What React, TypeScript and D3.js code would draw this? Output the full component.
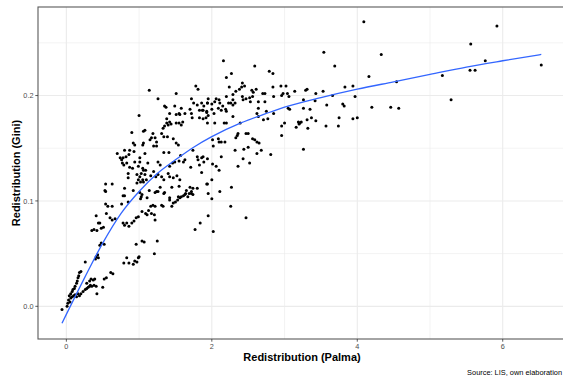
import React from "react";
import * as d3 from "d3";

// Redistribution (Palma) vs Redistribution (Gini)
const lowCluster: [number, number][] = [
  [-0.06,-0.003],[0.01,0.000],[0.02,0.003],[0.05,0.004],[0.03,0.006],[0.06,0.008],[0.08,0.009],[0.10,0.010],[0.12,0.011],[0.14,0.009],[0.16,0.012],[0.18,0.010],[0.20,0.012],[0.23,0.014],[0.26,0.016],[0.28,0.017],[0.30,0.018],[0.32,0.019],[0.33,0.020],[0.35,0.019],[0.38,0.020],[0.41,0.019],[0.42,0.012],[0.28,0.022],[0.32,0.024],[0.34,0.026],[0.37,0.025],[0.39,0.026],[0.50,0.018],[0.52,0.026],[0.55,0.027],[0.61,0.032],[0.64,0.031],
  [0.04,0.010],[0.06,0.012],[0.08,0.014],[0.09,0.016],[0.11,0.017],[0.12,0.019],[0.14,0.022],[0.15,0.024],[0.16,0.027],[0.17,0.029],[0.18,0.032],[0.20,0.033],
  [0.26,0.042],[0.40,0.045],[0.41,0.047],[0.43,0.049],[0.44,0.046],[0.46,0.058],[0.48,0.060],[0.52,0.059],
  [0.35,0.072],[0.38,0.073],[0.42,0.072],[0.44,0.079],[0.46,0.079],[0.48,0.074],[0.51,0.075],[0.41,0.086],[0.55,0.088],[0.54,0.097],[0.57,0.095],[0.63,0.095],[0.60,0.084],[0.63,0.082],[0.67,0.083],[0.53,0.110],
  [0.76,0.097],[0.78,0.079],[0.80,0.105],[0.85,0.099],[0.80,0.077],[0.83,0.079],[0.86,0.076],[0.90,0.079],[0.93,0.081],[0.96,0.084],[0.99,0.085],[1.04,0.106],[1.02,0.102],[1.04,0.090],
  [1.09,0.088],[1.11,0.087],[1.13,0.091],[1.16,0.095],[1.19,0.096],[1.22,0.095],[1.17,0.088],[1.21,0.087],[1.22,0.082],[1.11,0.103],[1.22,0.108],[1.26,0.109],[1.31,0.096],[1.33,0.095],[1.35,0.108],
  [1.42,0.101],[1.45,0.095],[1.47,0.098],[1.50,0.099],[1.53,0.101],[1.56,0.103],[1.58,0.104],[1.61,0.105],[1.64,0.107],[1.67,0.104],[1.69,0.107],[1.72,0.109],[1.74,0.106],
  [0.96,0.059],[1.04,0.062],[1.07,0.061],[1.25,0.062],[1.21,0.050],
  [0.79,0.041],[0.83,0.046],[0.86,0.041],[0.92,0.040],[0.94,0.043],[0.97,0.042],[0.99,0.046],[1.00,0.047],
];

const midCluster: [number, number][] = [
  [1.14,0.205],[1.78,0.209],[1.81,0.206],[1.51,0.202],[1.26,0.197],[1.72,0.197],[1.75,0.193],[1.80,0.191],[1.94,0.193],[1.35,0.190],[1.49,0.190],[1.58,0.188],[1.70,0.187],[1.72,0.183],[1.83,0.186],[1.88,0.186],[1.93,0.184],[1.00,0.181],[1.42,0.183],[1.51,0.182],[1.55,0.183],[1.63,0.183],[1.37,0.189],[1.56,0.182],
  [1.38,0.178],[1.42,0.175],[1.38,0.174],[1.40,0.172],[1.44,0.173],[1.35,0.171],[1.33,0.169],[1.51,0.174],[1.55,0.174],[1.60,0.175],[1.58,0.172],[1.73,0.179],[1.83,0.179],[1.88,0.178],[1.95,0.181],[1.94,0.174],
  [1.06,0.166],[1.08,0.167],[0.90,0.165],[1.19,0.164],[1.22,0.160],[1.17,0.160],[1.15,0.158],[1.24,0.156],[1.31,0.164],[1.34,0.161],[1.39,0.161],[1.47,0.159],[1.51,0.155],[1.54,0.153],
  [0.92,0.155],[0.94,0.153],[1.05,0.153],[1.06,0.155],[1.20,0.152],[1.24,0.152],[0.80,0.148],[0.87,0.148],[0.93,0.147],[0.70,0.145],[0.78,0.141],[0.74,0.141],
  [1.08,0.145],[1.34,0.146],[1.41,0.146],[1.57,0.143],[1.74,0.148],[1.80,0.142],
  [0.76,0.139],[0.77,0.136],[0.83,0.136],[0.94,0.137],[1.01,0.137],[0.99,0.133],[0.87,0.132],[0.91,0.131],
  [0.82,0.142],[0.79,0.134],[0.85,0.126],[0.86,0.144],[1.01,0.141],[1.05,0.131],[1.12,0.136],[0.54,0.109],[0.97,0.125],
  [1.26,0.137],[1.29,0.134],[1.42,0.133],[1.46,0.136],[1.49,0.137],[1.55,0.138],[1.61,0.137],[1.63,0.139],[1.71,0.132],[1.81,0.139],[1.83,0.134],[1.89,0.137],[1.94,0.140],
  [1.06,0.129],[1.09,0.129],[1.03,0.126],[1.08,0.125],[1.01,0.123],[0.99,0.120],[1.05,0.120],[1.02,0.118],[1.06,0.118],[0.97,0.117],[1.10,0.120],[1.16,0.124],
  [0.85,0.122],[0.54,0.116],[0.63,0.116],
  [1.20,0.128],[1.23,0.123],[1.26,0.125],[1.31,0.123],[1.34,0.120],[1.40,0.126],[1.42,0.123],[1.47,0.122],[1.52,0.124],[1.56,0.120],
  [0.80,0.112],[0.92,0.110],[1.01,0.108],[1.14,0.110],[1.24,0.109],[1.34,0.107],[1.29,0.113],[1.45,0.113],[1.55,0.114],[1.65,0.110],[1.70,0.113],[1.74,0.112],[1.80,0.112],[1.72,0.107],
  [0.78,0.105],[1.03,0.104],[1.42,0.103],[1.54,0.104],[1.63,0.106],[1.93,0.116],[1.95,0.107],
];

const upperCluster: [number, number][] = [
  [2.16,0.233],[2.59,0.228],[2.27,0.221],[2.20,0.217],[2.79,0.223],[2.84,0.221],[2.42,0.212],[2.45,0.209],[2.41,0.208],[2.38,0.206],[2.84,0.208],[2.95,0.209],[3.02,0.209],[2.55,0.205],[2.61,0.206],[2.70,0.202],[2.73,0.202],[2.24,0.208],[2.29,0.201],[2.33,0.204],
  [1.95,0.197],[2.06,0.197],[2.10,0.196],[2.20,0.199],[2.29,0.196],[2.42,0.199],[2.43,0.196],[2.47,0.197],[2.52,0.198],[2.56,0.199],[2.57,0.203],[2.53,0.194],[2.64,0.194],[2.73,0.194],
  [2.85,0.199],[2.96,0.200],[2.98,0.202],[3.04,0.202],[3.06,0.199],[3.14,0.204],[3.29,0.205],[3.31,0.206],[3.43,0.202],[3.53,0.204],[3.26,0.196],[3.42,0.195],
  [1.94,0.193],[2.00,0.192],[2.04,0.194],[2.11,0.193],[2.15,0.190],[2.19,0.187],[2.23,0.193],[2.26,0.193],[2.29,0.191],[2.32,0.193],[2.20,0.185],
  [1.86,0.193],[1.87,0.186],[1.89,0.190],[1.93,0.185],[2.00,0.187],[2.03,0.183],[2.09,0.188],[2.13,0.186],
  [2.64,0.188],[2.62,0.183],[2.75,0.185],[2.77,0.178],[2.85,0.183],[3.05,0.188],[3.07,0.187],[3.26,0.188],[3.35,0.187],[3.58,0.191],
  [1.92,0.179],[2.04,0.174],[2.20,0.174],[2.17,0.174],[2.29,0.180],[2.39,0.174],[2.64,0.180],[2.71,0.177],
  [2.96,0.171],[3.00,0.174],[3.16,0.170],[3.19,0.175],[3.21,0.174],[3.23,0.175],[3.20,0.173],[3.32,0.169],[3.31,0.177],[3.37,0.179],[3.43,0.176],[3.57,0.171],
  [2.01,0.158],[2.02,0.152],[2.09,0.159],[2.10,0.156],[2.13,0.156],[2.18,0.156],[2.33,0.160],[2.35,0.162],[2.36,0.164],[2.47,0.164],[2.50,0.164],[2.56,0.159],[2.59,0.158],[2.62,0.156],[2.65,0.155],[2.96,0.162],[3.26,0.149],
  [2.32,0.148],[2.44,0.149],[2.50,0.151],[2.68,0.148],[2.62,0.145],[2.81,0.144],
  [1.86,0.141],[1.88,0.142],[2.13,0.142],[2.43,0.140],[2.52,0.136],[2.36,0.133],[2.01,0.135],[2.06,0.133],[2.10,0.129],
  [1.86,0.127],[1.94,0.116],[2.00,0.120],[2.27,0.113],[2.11,0.109],[2.00,0.102],
  [2.26,0.095],[1.95,0.086],[2.47,0.084],[2.02,0.071],[1.84,0.079],[1.77,0.073],
];

const tailPoints: [number, number][] = [
  [4.09,0.270],[3.54,0.241],[4.33,0.239],[3.69,0.228],[4.16,0.218],[3.66,0.200],[3.83,0.208],[3.94,0.209],[3.97,0.199],[3.80,0.192],[3.82,0.190],[3.75,0.179],[3.94,0.178],[4.00,0.179],[4.20,0.189],[4.46,0.189],[4.57,0.188],[3.74,0.171],[4.54,0.213],[5.17,0.219],[5.29,0.196],[5.56,0.249],[5.55,0.224],[5.62,0.224],[5.76,0.233],[5.92,0.266],[6.53,0.229],
];

// loess smooth
const smoothX = [-0.06, 0.25, 0.5, 0.75, 1.0, 1.25, 1.5, 1.75, 2.0, 2.4, 2.75, 3.0, 3.5, 4.0, 4.5, 5.0, 5.5, 6.0, 6.53];
const smoothY = [-0.016, 0.027, 0.060, 0.088, 0.109, 0.126, 0.139, 0.151, 0.161, 0.174, 0.183, 0.189, 0.198, 0.206, 0.213, 0.220, 0.227, 0.233, 0.239];

const xMajor = [0, 2, 4, 6];
const xMinor = [1, 3, 5];
const yMajor = [0, 0.1, 0.2];
const yMinor = [0.05, 0.15, 0.25];
const yTickLabels = ["0.0", "0.1", "0.2"];
const xTickLabels = ["0", "2", "4", "6"];

const W = 563, H = 381;
const P = { left: 38, right: 566, top: 7, bottom: 339 };
const FONT = "'Liberation Sans', Arial, Helvetica, sans-serif";

export default function App() {
  const x = d3.scaleLinear().domain([-0.39, 6.87]).range([P.left, P.right]);
  const y = d3.scaleLinear().domain([-0.031, 0.284]).range([P.bottom, P.top]);
  const points = [...lowCluster, ...midCluster, ...upperCluster, ...tailPoints];
  const smooth = smoothX.map((v, i) => [v, smoothY[i]] as [number, number]);
  const line = d3.line<[number, number]>().x(d => x(d[0])).y(d => y(d[1])).curve(d3.curveMonotoneX);
  const grid = "#EBEBEB";
  return (
    <svg width={W} height={H} style={{ position: "absolute", left: 0, top: 0, background: "#fff" }} fontFamily={FONT}>
      <rect x={0} y={0} width={W} height={H} fill="#fff" />
      {xMinor.map(v => <line key={"xm" + v} x1={x(v)} x2={x(v)} y1={P.top} y2={P.bottom} stroke={grid} strokeWidth={0.6} />)}
      {yMinor.map(v => <line key={"ym" + v} x1={P.left} x2={P.right} y1={y(v)} y2={y(v)} stroke={grid} strokeWidth={0.6} />)}
      {xMajor.map(v => <line key={"xM" + v} x1={x(v)} x2={x(v)} y1={P.top} y2={P.bottom} stroke={grid} strokeWidth={1.1} />)}
      {yMajor.map(v => <line key={"yM" + v} x1={P.left} x2={P.right} y1={y(v)} y2={y(v)} stroke={grid} strokeWidth={1.1} />)}
      {points.map((d, i) => <circle key={i} cx={x(d[0])} cy={y(d[1])} r={1.5} fill="#000" />)}
      <path d={line(smooth) || ""} fill="none" stroke="#3366FF" strokeWidth={1.3} />
      <rect x={P.left} y={P.top} width={P.right - P.left} height={P.bottom - P.top} fill="none" stroke="#5a5a5a" strokeWidth={1.1} />
      {yMajor.map((v, i) => (
        <g key={"yt" + v}>
          <line x1={P.left - 2.7} x2={P.left} y1={y(v)} y2={y(v)} stroke="#333" strokeWidth={0.8} />
          <text x={P.left - 4.5} y={y(v) + 2.6} textAnchor="end" fontSize={7.3} fill="#4D4D4D">{yTickLabels[i]}</text>
        </g>
      ))}
      {xMajor.map((v, i) => (
        <g key={"xt" + v}>
          <line x1={x(v)} x2={x(v)} y1={P.bottom} y2={P.bottom + 2.7} stroke="#333" strokeWidth={0.8} />
          <text x={x(v)} y={P.bottom + 10} textAnchor="middle" fontSize={7.3} fill="#4D4D4D">{xTickLabels[i]}</text>
        </g>
      ))}
      <text x={(P.left + P.right) / 2} y={361} textAnchor="middle" fontSize={11} fontWeight="bold" fill="#000">Redistribution (Palma)</text>
      <text transform={`translate(20,${(P.top + P.bottom) / 2}) rotate(-90)`} textAnchor="middle" fontSize={11} fontWeight="bold" fill="#000">Redistribution (Gini)</text>
      <text x={562} y={375} textAnchor="end" fontSize={7.4} fill="#000">Source: LIS, own elaboration</text>
    </svg>
  );
}
